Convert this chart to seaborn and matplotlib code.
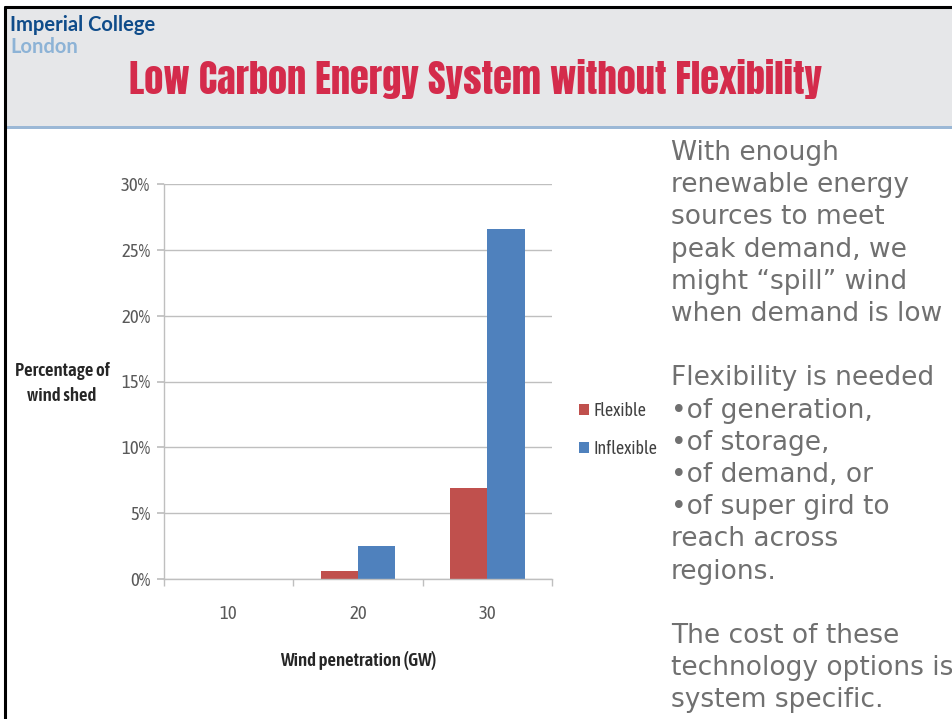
import pandas as pd
import numpy as np
import matplotlib
matplotlib.use("Agg")
import matplotlib.pyplot as plt
from matplotlib.patches import Rectangle
from matplotlib.ticker import PercentFormatter, FixedLocator
import seaborn as sns
import warnings
warnings.filterwarnings('ignore')

# chart data
penetration = ['10', '20', '30']
flexible = [0.0, 0.006, 0.069]
inflexible = [0.0, 0.025, 0.266]
series_names = ['Flexible', 'Inflexible']
y_ticks = [0.0, 0.05, 0.10, 0.15, 0.20, 0.25, 0.30]

bullet_text = [
    "With enough", "renewable energy", "sources to meet", "peak demand, we",
    "might \u201cspill\u201d wind", "when demand is low", "",
    "Flexibility is needed", "\u2022of generation,", "\u2022of storage,",
    "\u2022of demand, or", "\u2022of super gird to", "reach across", "regions.", "",
    "The cost of these", "technology options is", "system specific.",
]

sns.set_theme(style="white")
plt.rcParams['font.family'] = ['DejaVu Sans']

chart_font = ['Asap Condensed', 'Carlito', 'DejaVu Sans']
impact = ['Anton', 'Oswald', 'Barlow Condensed', 'DejaVu Sans']
logo = ['Lato', 'DejaVu Sans']

df = pd.DataFrame({
    'GW': penetration * 2,
    'share': flexible + inflexible,
    'kind': [series_names[0]] * 3 + [series_names[1]] * 3,
})

fig = plt.figure(figsize=(9.52, 7.19), dpi=100)
fig.patch.set_facecolor('white')

# slide header
fig.patches.append(Rectangle((6/952, 1 - 126/719), 946/952, 118/719, transform=fig.transFigure,
                             facecolor='#E6E7E9', edgecolor='none', zorder=0))
fig.patches.append(Rectangle((6/952, 1 - 129/719), 946/952, 3/719, transform=fig.transFigure,
                             facecolor='#9BB8D6', edgecolor='none', zorder=1))
# black frame (left + top)
fig.lines.append(plt.Line2D([5/952, 5/952], [0, 1 - 7/719], transform=fig.transFigure,
                            color='black', lw=2.2))
fig.lines.append(plt.Line2D([5/952, 1], [1 - 7/719, 1 - 7/719], transform=fig.transFigure,
                            color='black', lw=2.2))

fig.text(10/952, 1 - 31/719, 'Imperial College', color='#0F4C8A', fontsize=14.5,
         family=logo, va='baseline', ha='left', fontweight='bold')
fig.text(10/952, 1 - 53/719, 'London', color='#8DB3D6', fontsize=14.5,
         family=logo, va='baseline', ha='left', fontweight='bold')
fig.text(476/952, 1 - 94/719, 'Low Carbon Energy System without Flexibility', color='#D42B4B',
         fontsize=27.5, family=impact, va='baseline', ha='center')

# right-hand text
fig.text(671/952, 1 - 140/719, "\n".join(bullet_text), color='#707070', fontsize=19,
         family=['DejaVu Sans'], va='top', ha='left', linespacing=1.31)

ax = fig.add_axes([164/952, 1 - 579/719, 388/952, 395/719])
sns.barplot(data=df, x='GW', y='share', hue='kind', hue_order=series_names,
            palette=['#C0504D', '#4F81BD'], width=0.575, gap=0, saturation=1,
            linewidth=0, ax=ax, legend=True)

ax.set_ylim(0, 0.30)
ax.set_xlim(-0.5, 2.5)
ax.yaxis.set_major_locator(FixedLocator(y_ticks))
ax.yaxis.set_major_formatter(PercentFormatter(1, decimals=0))
ax.grid(axis='y', color='#BFBFBF', lw=1)
ax.set_axisbelow(True)
for s in ['top', 'right']:
    ax.spines[s].set_visible(False)
for s in ['left', 'bottom']:
    ax.spines[s].set_color('#BFBFBF')
    ax.spines[s].set_linewidth(1)

ax.set_xticks([-0.5, 0.5, 1.5, 2.5], minor=True)
ax.tick_params(axis='x', which='major', length=0, pad=19, labelsize=13.5, labelcolor='#595959')
ax.tick_params(axis='x', which='minor', length=5, color='#BFBFBF', direction='out', bottom=True)
ax.tick_params(axis='y', which='major', length=5, color='#BFBFBF', direction='out', left=True,
               pad=5, labelsize=13.5, labelcolor='#595959')
for lbl in ax.get_xticklabels() + ax.get_yticklabels():
    lbl.set_family(chart_font)

ax.set_xlabel('Wind penetration (GW)', fontsize=13.5, color='#262626', family=chart_font,
              fontweight='semibold', labelpad=20)
ax.set_ylabel('Percentage of\nwind shed', fontsize=13.5, color='#262626', family=chart_font,
              fontweight='semibold', rotation=0, ha='center', va='center', linespacing=1.55)
ax.yaxis.set_label_coords(-0.263, 0.495)

leg = ax.legend(loc='center left', bbox_to_anchor=(1.05, 0.378), frameon=False,
                handlelength=0.55, handleheight=0.55, handletextpad=0.25, labelspacing=1.12,
                borderaxespad=0.0, prop={'family': chart_font, 'size': 13})
for t in leg.get_texts():
    t.set_color('#404040')

fig.savefig('out.png', dpi=100)
